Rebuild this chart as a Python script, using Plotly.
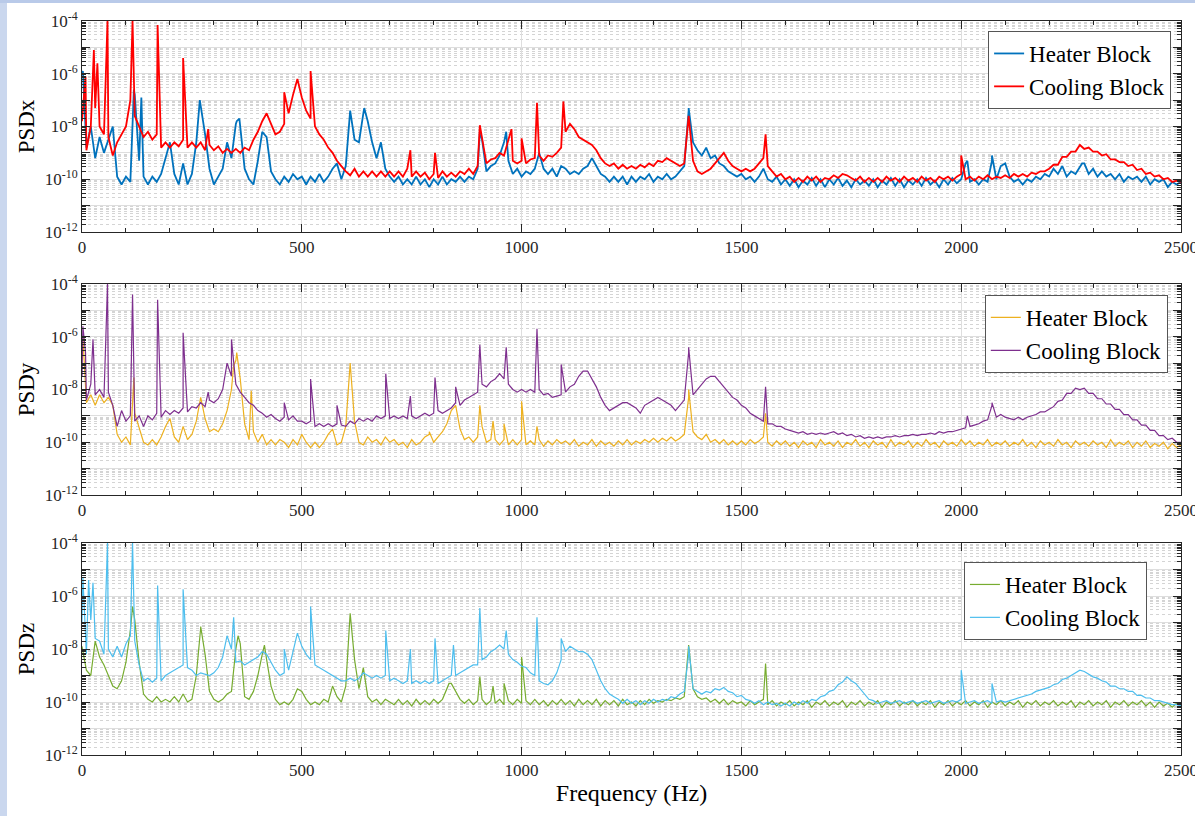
import plotly.graph_objects as go
from plotly.subplots import make_subplots

# ---------------- data (log10 of PSD) ----------------
freq_grid = list(range(0, 2510, 10))

hx_log = [
 -6.0, -8.8, -8.0, -9.2, -8.4, -9.0, -8.5, -8.0, -9.9, -10.2,
 -9.9, -10.1, -6.8, -9.3, -9.9, -10.2, -9.9, -10.1, -9.8, -9.2,
 -8.6, -9.8, -10.2, -9.4, -10.2, -9.8, -8.6, -7.2, -8.3, -9.6,
 -10.2, -9.9, -9.6, -8.6, -9.2, -7.9, -8.0, -9.6, -10.0, -10.2,
 -9.3, -8.2, -8.4, -9.7, -10.0, -10.2, -9.9, -10.1, -9.8, -10.0,
 -9.9, -10.2, -9.9, -10.1, -9.8, -10.1, -9.9, -9.6, -9.4, -10.0,
 -9.5, -7.6, -8.5, -8.6, -7.5, -7.8, -8.6, -9.2, -8.6, -9.6,
 -9.9, -10.1, -9.9, -10.2, -10.0, -10.2, -9.9, -10.2, -10.0, -10.3,
 -10.0, -10.2, -9.9, -10.2, -10.0, -10.1, -9.9, -10.1, -9.9, -10.0,
 -9.6, -8.5, -9.7, -9.5, -9.4, -9.1, -8.6, -9.3, -9.8, -9.6,
 -9.9, -9.7, -9.8, -9.6, -9.0, -9.6, -9.8, -9.6, -9.9, -9.5,
 -9.6, -9.8, -9.7, -9.8, -9.6, -9.5, -9.2, -9.5, -9.8, -9.9,
 -10.1, -9.9, -10.1, -9.9, -10.2, -9.9, -10.1, -9.9, -10.0, -9.8,
 -10.1, -9.9, -10.0, -9.8, -10.0, -9.9, -9.7, -9.5, -7.4, -8.6,
 -8.9, -9.1, -8.8, -9.2, -9.1, -9.4, -9.5, -9.7, -9.8, -9.9,
 -9.8, -10.0, -9.9, -10.1, -9.9, -9.6, -10.0, -10.1, -9.9, -10.2,
 -10.0, -10.25, -10.0, -10.3, -10.05, -10.2, -9.95, -10.25, -10.0, -10.3,
 -10.0, -10.2, -9.95, -10.25, -10.05, -10.3, -10.0, -10.2, -10.05, -10.25,
 -10.0, -10.3, -10.05, -10.2, -9.95, -10.25, -10.0, -10.3, -10.05, -10.2,
 -10.0, -10.25, -9.95, -10.2, -10.05, -10.3, -10.0, -10.2, -9.95, -10.15,
 -10.0, -9.4, -10.1, -10.0, -10.2, -10.0, -10.1, -9.3, -10.0, -9.5,
 -9.4, -9.9, -10.1, -10.0, -10.2, -10.0, -10.1, -9.9, -10.0, -9.8,
 -9.9, -9.6, -9.8, -9.5, -9.9, -9.7, -9.8, -9.5, -9.4, -9.8,
 -9.6, -9.9, -9.7, -9.9, -9.8, -10.0, -9.8, -10.1, -9.9, -10.0,
 -9.9, -10.1, -9.9, -10.2, -10.0, -10.1, -10.0, -10.3, -10.1, -10.2,
 -10.1,
]
cx_log = [
 -7.8, -8.9, -8.0, -7.3, -8.0, -8.3, -8.4, -9.1, -8.6, -8.3,
 -8.0, -7.0, -7.6, -8.0, -8.4, -8.2, -8.5, -8.3, -8.8, -8.6,
 -8.8, -8.6, -8.75, -8.5, -8.8, -8.6, -8.8, -8.6, -8.9, -8.7,
 -8.9, -8.75, -9.0, -8.85, -9.0, -8.85, -9.0, -8.8, -8.9, -8.5,
 -8.2, -7.8, -7.5, -7.9, -8.3, -8.2, -7.9, -7.5, -6.8, -6.2,
 -6.9, -7.4, -7.7, -8.0, -8.3, -8.5, -8.8, -9.0, -9.3, -9.5,
 -9.7, -9.85, -9.6, -9.9, -9.7, -9.9, -9.7, -9.9, -9.7, -9.9,
 -9.7, -9.9, -9.7, -9.9, -9.6, -9.9, -9.7, -9.9, -9.75, -10.0,
 -9.8, -9.95, -9.7, -9.9, -9.75, -9.9, -9.7, -9.8, -9.6, -9.8,
 -9.5, -8.4, -9.4, -9.25, -9.2, -9.0, -9.1, -8.5, -9.3, -9.4,
 -9.3, -9.4, -9.25, -9.2, -9.1, -9.3, -9.1, -9.15, -9.0, -8.8,
 -8.2, -7.9, -8.1, -8.4, -8.5, -8.6, -8.7, -8.9, -9.2, -9.4,
 -9.5, -9.4, -9.6, -9.45, -9.6, -9.5, -9.6, -9.45, -9.55, -9.4,
 -9.5, -9.3, -9.35, -9.2, -9.3, -9.4, -9.5, -9.4, -7.6, -9.3,
 -9.7, -9.8, -9.7, -9.6, -9.4, -9.2, -9.0, -9.3, -9.5, -9.6,
 -9.7, -9.6, -9.7, -9.6, -9.4, -9.2, -9.5, -9.7, -9.9, -9.8,
 -10.0, -9.9, -10.1, -9.95, -10.1, -9.9, -10.05, -9.9, -10.1, -9.95,
 -10.0, -9.85, -9.95, -9.8, -9.85, -9.95, -10.05, -9.9, -10.1, -9.95,
 -10.1, -9.95, -10.1, -9.9, -10.05, -9.95, -10.1, -9.9, -10.05, -9.95,
 -10.1, -9.9, -10.05, -9.95, -10.1, -9.9, -10.0, -9.9, -10.05, -9.9,
 -9.8, -10.0, -9.9, -10.05, -9.9, -10.0, -9.85, -10.0, -9.9, -9.95,
 -9.85, -9.95, -9.8, -9.9, -9.8, -9.9, -9.75, -9.8, -9.7, -9.7,
 -9.6, -9.45, -9.45, -9.15, -9.15, -8.95, -8.95, -8.7, -8.85, -8.8,
 -8.95, -8.95, -9.1, -9.05, -9.25, -9.25, -9.35, -9.35, -9.5, -9.45,
 -9.65, -9.6, -9.8, -9.75, -9.9, -9.85, -10.0, -9.95, -10.1, -10.05,
 -10.1,
]
hy_log = [
 -6.3, -8.5, -8.2, -8.6, -8.2, -8.5, -8.3, -8.6, -9.7, -10.0,
 -9.8, -10.1, -8.9, -9.5, -10.0, -10.1, -9.9, -10.1, -9.8, -9.4,
 -9.1, -9.8, -10.0, -9.4, -9.9, -9.7, -9.2, -8.3, -9.1, -9.6,
 -9.5, -9.6, -9.3, -8.8, -8.0, -6.9, -7.6, -9.3, -9.9, -9.6,
 -10.0, -9.7, -10.1, -9.9, -10.1, -9.9, -10.0, -10.2, -9.9, -10.1,
 -9.7, -10.0, -10.2, -10.0, -10.2, -10.0, -9.7, -9.5, -10.1, -10.0,
 -9.4, -7.2, -9.2, -10.0, -10.1, -9.8, -10.0, -9.9, -10.1, -9.8,
 -10.0, -9.9, -10.1, -10.0, -10.2, -9.9, -10.1, -10.0, -9.8, -9.7,
 -10.0, -9.8, -9.6, -9.3, -8.8, -8.6, -9.5, -9.9, -9.8, -10.0,
 -9.8, -9.4, -10.0, -9.9, -9.9, -10.1, -9.9, -10.1, -9.9, -10.1,
 -9.9, -10.1, -9.95, -10.1, -9.9, -10.15, -9.95, -10.1, -9.9, -10.05,
 -9.95, -10.1, -9.9, -10.15, -10.0, -10.1, -9.9, -10.15, -9.95, -10.1,
 -10.0, -10.15, -9.95, -10.1, -9.9, -10.1, -9.95, -10.05, -9.9, -10.0,
 -9.85, -10.0, -9.85, -9.95, -9.8, -9.95, -9.85, -9.7, -8.3, -9.6,
 -9.8, -9.9, -9.7, -10.0, -9.9, -10.05, -9.9, -10.1, -9.95, -10.1,
 -9.95, -10.1, -9.9, -10.05, -9.95, -9.8, -10.0, -10.15, -9.95, -10.1,
 -9.95, -10.15, -10.0, -10.2, -9.95, -10.1, -10.0, -10.2, -9.9, -10.1,
 -10.0, -10.15, -9.95, -10.2, -10.0, -10.1, -9.9, -10.15, -10.0, -10.2,
 -9.95, -10.1, -10.0, -10.2, -9.9, -10.15, -10.0, -10.1, -9.95, -10.2,
 -10.0, -10.15, -9.9, -10.1, -10.0, -10.2, -9.95, -10.1, -10.0, -10.15,
 -9.9, -10.1, -9.95, -10.15, -10.0, -10.1, -9.9, -10.15, -10.0, -10.1,
 -9.95, -10.15, -10.0, -10.1, -9.9, -10.15, -10.0, -10.2, -9.95, -10.1,
 -10.0, -10.15, -9.9, -10.1, -10.0, -10.2, -9.95, -10.1, -10.0, -10.15,
 -9.95, -10.1, -10.0, -10.2, -9.9, -10.15, -10.0, -10.1, -9.95, -10.2,
 -10.0, -10.15, -9.95, -10.2, -10.05, -10.15, -10.0, -10.25, -10.05, -10.2,
 -10.1,
]
cy_log = [
 -7.5, -8.4, -7.8, -8.2, -8.0, -8.3, -8.1, -8.6, -9.4, -8.8,
 -9.2, -9.0, -9.2, -9.0, -9.4, -9.0, -9.15, -8.9, -9.05, -8.8,
 -8.95, -8.8, -8.9, -8.7, -8.85, -8.65, -8.7, -8.5, -8.65, -8.4,
 -8.5, -8.35, -8.0, -7.0, -7.5, -7.8, -8.1, -8.3, -8.5, -8.6,
 -8.8, -8.9, -9.05, -8.95, -9.1, -9.2, -9.05, -9.15, -9.0, -9.2,
 -9.2, -9.3, -9.2, -9.4, -9.3, -9.4, -9.3, -9.4, -9.3, -9.35,
 -9.4, -9.2, -9.3, -9.1, -9.2, -9.1, -9.2, -9.0, -9.1, -9.0,
 -9.1, -9.0, -9.1, -9.0, -9.1, -9.0, -9.1, -9.0, -8.9, -9.0,
 -8.9, -8.8, -8.9, -8.8, -8.7, -8.5, -8.6, -8.4, -8.3, -8.2,
 -8.1, -7.8, -7.9, -7.7, -7.6, -7.4, -7.6, -7.8, -8.0, -8.1,
 -8.0, -8.1, -8.0, -8.1, -8.0, -8.2, -8.15, -8.3, -8.25, -8.2,
 -8.1, -7.9, -7.8, -7.5, -7.3, -7.3, -7.6, -7.9, -8.3, -8.6,
 -8.8, -8.7, -8.6, -8.5, -8.5, -8.6, -8.7, -8.9, -8.6, -8.5,
 -8.4, -8.3, -8.4, -8.5, -8.6, -8.8, -8.6, -8.4, -6.6, -8.2,
 -8.0, -7.8, -7.6, -7.5, -7.5, -7.7, -7.9, -8.1, -8.3, -8.4,
 -8.6, -8.7, -8.9, -9.0, -9.1, -9.2, -9.3, -9.3, -9.4, -9.4,
 -9.5, -9.55, -9.6, -9.65, -9.6, -9.7, -9.65, -9.7, -9.65, -9.7,
 -9.65, -9.6, -9.7, -9.65, -9.75, -9.7, -9.8, -9.75, -9.85, -9.8,
 -9.85, -9.8, -9.85, -9.8, -9.8, -9.75, -9.8, -9.75, -9.75, -9.7,
 -9.75, -9.7, -9.7, -9.65, -9.7, -9.6, -9.65, -9.6, -9.6, -9.55,
 -9.5, -9.45, -9.4, -9.35, -9.3, -9.2, -9.15, -8.6, -9.05, -8.95,
 -9.05, -9.1, -9.15, -9.05, -9.15, -9.05, -9.0, -8.95, -8.85, -8.85,
 -8.75, -8.65, -8.45, -8.4, -8.15, -8.15, -7.95, -8.0, -7.95, -8.15,
 -8.15, -8.35, -8.35, -8.55, -8.55, -8.75, -8.75, -8.95, -8.95, -9.15,
 -9.15, -9.35, -9.35, -9.55, -9.55, -9.75, -9.75, -9.9, -9.85, -10.0,
 -10.0,
]
hz_log = [
 -7.9, -8.8, -9.0, -7.7, -8.3, -8.6, -9.0, -9.4, -9.5, -9.2,
 -8.5, -7.3, -6.9, -8.5, -9.7, -9.9, -10.0, -9.8, -10.0, -9.9,
 -10.0, -9.8, -10.0, -9.7, -10.0, -9.9, -9.0, -7.2, -8.2, -9.6,
 -9.9, -10.0, -9.9, -9.7, -9.6, -8.0, -7.8, -9.8, -9.9, -9.6,
 -9.0, -8.2, -8.4, -9.4, -9.9, -10.1, -10.0, -10.1, -9.9, -9.5,
 -9.6, -9.9, -10.1, -10.0, -10.1, -9.9, -10.0, -9.4, -9.8, -10.0,
 -9.4, -6.8, -8.4, -9.5, -8.7, -9.8, -10.0, -9.9, -10.1, -9.9,
 -10.0, -10.1, -9.9, -10.1, -9.95, -10.15, -9.9, -10.1, -9.95, -10.1,
 -9.9, -10.05, -9.9, -9.5, -9.3, -9.6, -9.9, -10.05, -9.9, -10.1,
 -9.95, -9.9, -10.1, -9.95, -10.05, -9.9, -10.1, -9.95, -10.1, -9.9,
 -10.05, -9.95, -10.1, -9.9, -10.1, -9.95, -10.15, -9.95, -10.1, -9.9,
 -10.1, -9.95, -10.15, -9.9, -10.1, -9.95, -10.1, -9.9, -10.15, -9.95,
 -10.1, -9.95, -10.15, -9.9, -10.1, -10.0, -10.15, -9.95, -10.1, -9.9,
 -10.05, -9.95, -10.0, -9.9, -9.95, -9.85, -9.9, -9.8, -8.0, -9.5,
 -9.8, -9.9, -9.85, -10.0, -9.9, -10.05, -9.9, -10.1, -9.95, -10.05,
 -10.0, -10.15, -9.95, -10.1, -10.0, -9.9, -10.1, -9.95, -10.15, -10.0,
 -10.1, -9.95, -10.15, -10.0, -10.1, -9.95, -10.2, -10.0, -10.1, -9.95,
 -10.15, -10.0, -10.1, -9.95, -10.2, -10.0, -10.1, -9.95, -10.15, -10.0,
 -10.1, -9.95, -10.2, -10.0, -10.1, -9.95, -10.15, -10.0, -10.1, -9.95,
 -10.15, -10.0, -10.1, -9.95, -10.2, -10.0, -10.1, -9.95, -10.15, -10.0,
 -10.1, -9.95, -10.15, -10.0, -10.1, -9.95, -10.2, -10.0, -10.1, -9.95,
 -10.15, -10.0, -10.1, -9.95, -10.2, -10.0, -10.1, -9.95, -10.15, -10.0,
 -10.1, -9.95, -10.15, -10.0, -10.1, -9.95, -10.2, -10.0, -10.1, -9.95,
 -10.15, -10.0, -10.1, -9.95, -10.2, -10.0, -10.1, -9.95, -10.15, -10.0,
 -10.1, -9.95, -10.15, -10.0, -10.2, -10.0, -10.15, -10.05, -10.2, -10.05,
 -10.15,
]
cz_log = [
 -7.0, -8.2, -6.9, -7.6, -7.7, -8.2, -8.0, -8.3, -7.9, -8.3,
 -7.8, -7.5, -7.7, -8.6, -9.2, -9.1, -9.25, -9.1, -9.2, -9.0,
 -8.9, -8.8, -8.7, -8.6, -8.7, -8.8, -9.0, -8.9, -8.95, -9.0,
 -8.9, -8.7, -8.3, -7.5, -8.0, -8.5, -8.45, -8.6, -8.5, -8.4,
 -8.3, -8.1, -8.2, -8.5, -8.8, -9.0, -8.9, -8.8, -8.1, -7.4,
 -7.9, -8.2, -8.4, -8.6, -8.7, -8.8, -8.9, -9.0, -9.1, -9.2,
 -9.2, -9.1, -9.2, -9.1, -8.9, -9.0, -9.1, -9.0, -9.1, -9.0,
 -9.2, -9.1, -9.2, -9.3, -9.2, -9.3, -9.2, -9.3, -9.2, -9.3,
 -9.2, -9.3, -9.2, -9.1, -9.0, -9.0, -8.9, -8.8, -8.7, -8.6,
 -8.6, -8.4, -8.3, -8.1, -8.0, -7.85, -8.0, -8.2, -8.4, -8.5,
 -8.65, -8.7, -8.9, -9.0, -9.2, -9.3, -9.35, -9.2, -8.9, -8.4,
 -8.1, -7.9, -8.0, -8.1, -8.1, -8.2, -8.4, -8.8, -9.2, -9.5,
 -9.7, -9.8, -9.9, -10.05, -9.9, -10.05, -9.95, -10.1, -9.95, -10.05,
 -9.9, -10.0, -9.9, -9.95, -9.8, -9.85, -9.7, -9.6, -8.2, -9.5,
 -9.6, -9.7, -9.6, -9.65, -9.5, -9.55, -9.45, -9.6, -9.65, -9.8,
 -9.75, -9.9, -9.95, -10.05, -9.95, -10.1, -10.0, -10.1, -10.05, -10.15,
 -10.05, -10.15, -10.0, -10.1, -9.95, -10.05, -9.9, -9.95, -9.8, -9.75,
 -9.6, -9.55, -9.35, -9.25, -9.05, -9.2, -9.3, -9.5, -9.7, -9.9,
 -9.95, -10.05, -10.0, -9.95, -10.05, -10.0, -9.95, -10.05, -10.0, -9.95,
 -10.05, -10.0, -9.95, -10.05, -10.0, -9.95, -10.05, -10.0, -9.95, -10.0,
 -9.9, -10.05, -10.0, -9.95, -10.05, -10.0, -9.95, -10.05, -10.0, -9.95,
 -10.0, -9.95, -9.9, -9.85, -9.8, -9.75, -9.7, -9.6, -9.55, -9.5,
 -9.45, -9.35, -9.3, -9.15, -9.1, -9.0, -8.9, -8.8, -8.85, -8.95,
 -9.05, -9.1, -9.2, -9.25, -9.4, -9.4, -9.5, -9.5, -9.6, -9.6,
 -9.75, -9.75, -9.85, -9.85, -9.95, -9.95, -10.0, -10.05, -10.1, -10.1,
 -10.15,
]

# narrow spectral lines: (frequency Hz, log10 PSD)
hx_spike_f = [2, 118, 135, 268, 352, 358, 610, 642, 905, 965, 1040, 1380, 1422, 2014, 2070, 2275]
hx_spike_v = [-5.9, -6.6, -6.9, -7.0, -7.8, -7.7, -7.4, -7.3, -8.2, -8.2, -9.0, -7.3, -8.9, -9.3, -9.1, -9.4]
cx_spike_f = [8, 27, 35, 58, 115, 172, 230, 287, 460, 520, 747, 803, 905, 977, 1000, 1035, 1095, 1380, 1555, 2000]
cx_spike_v = [-6.1, -5.1, -5.6, -4.0, -4.0, -4.15, -5.4, -8.1, -6.7, -5.9, -8.9, -9.0, -7.95, -8.1, -8.45, -7.1, -7.05, -7.6, -8.3, -9.1]
hy_spike_f = [2, 118, 345, 352, 385, 610, 790, 905, 935, 960, 1000, 1035, 1380, 1555]
hy_spike_v = [-6.0, -7.55, -7.1, -6.6, -8.05, -7.0, -9.6, -8.6, -9.2, -9.3, -8.45, -9.4, -8.0, -8.9]
cy_spike_f = [2, 8, 25, 58, 115, 172, 230, 287, 340, 460, 520, 580, 691, 747, 803, 850, 905, 965, 1035, 1090, 1380, 1555, 2014, 2070]
cy_spike_v = [-5.6, -6.6, -6.1, -4.0, -4.4, -4.6, -5.85, -8.1, -6.1, -8.5, -7.6, -8.6, -7.4, -8.25, -7.55, -7.9, -6.3, -6.4, -5.7, -7.05, -6.4, -7.9, -9.0, -8.5]
hz_spike_f = [115, 270, 355, 415, 610, 835, 905, 935, 960, 1000, 1380, 1555]
hz_spike_v = [-6.4, -7.15, -7.5, -7.85, -6.65, -9.3, -9.05, -9.4, -9.3, -8.3, -7.85, -8.55]
cz_spike_f = [2, 15, 25, 58, 115, 172, 230, 345, 460, 520, 691, 747, 803, 845, 905, 965, 1035, 1090, 1380, 2000, 2070]
cz_spike_v = [-5.3, -5.4, -5.5, -4.0, -4.0, -5.6, -5.75, -6.8, -8.0, -6.4, -7.3, -8.0, -7.6, -7.85, -6.45, -7.3, -6.8, -7.6, -7.9, -8.8, -9.3]

panel_titles = ["PSDx", "PSDy", "PSDz"]
legend_labels = ["Heater Block", "Cooling Block"]
heater_colors = ["#0072BD", "#EDB120", "#77AC30"]
cooling_colors = ["#FF0000", "#7E2F8E", "#4DBEEE"]
x_tick_vals = [0, 500, 1000, 1500, 2000, 2500]
y_exponents = list(range(-12, -3))


def merge(base, sf, sv):
    pts = list(zip(freq_grid, base)) + list(zip(sf, sv))
    pts.sort(key=lambda p: p[0])
    return [p[0] for p in pts], [10 ** p[1] for p in pts]


series = [
    (merge(hx_log, hx_spike_f, hx_spike_v), merge(cx_log, cx_spike_f, cx_spike_v)),
    (merge(hy_log, hy_spike_f, hy_spike_v), merge(cy_log, cy_spike_f, cy_spike_v)),
    (merge(hz_log, hz_spike_f, hz_spike_v), merge(cz_log, cz_spike_f, cz_spike_v)),
]

# ---------------- figure ----------------
W, H = 1195, 816
ML, MR, MT, MB = 82, 14, 21, 61
PW, PH = W - ML - MR, H - MT - MB
panels_px = [(21, 232), (284, 495), (543, 755)]


def py(y):
    return (H - MB - y) / PH


fig = make_subplots(rows=3, cols=1, vertical_spacing=0.05)
font_fam = "Liberation Serif, DejaVu Serif, Noto Serif, FreeSerif, Times New Roman, serif"
axis_col = "#262626"
lw = [1.8, 1.2, 1.2]
legend_names = ["legend", "legend2", "legend3"]

for i in range(3):
    (hxs, hys), (cxs, cys) = series[i]
    fig.add_trace(go.Scatter(x=hxs, y=hys, mode="lines", name=legend_labels[0],
                             line=dict(color=heater_colors[i], width=lw[i]),
                             legend=legend_names[i]), row=i + 1, col=1)
    fig.add_trace(go.Scatter(x=cxs, y=cys, mode="lines", name=legend_labels[1],
                             line=dict(color=cooling_colors[i], width=lw[i]),
                             legend=legend_names[i]), row=i + 1, col=1)

minor_y = [k * 10 ** e for e in range(-12, -4) for k in range(2, 10)]
for i in range(3):
    top, bot = panels_px[i]
    n = "" if i == 0 else str(i + 1)
    fig.layout["yaxis" + n].domain = [py(bot), py(top)]
    fig.update_yaxes(
        row=i + 1, col=1, type="log", range=[-12, -4], automargin=False,
        tickvals=[10 ** e for e in y_exponents],
        ticktext=[("10<sup>%d</sup>" % e) if e % 2 == 0 else " " for e in y_exponents],
        ticks="inside", ticklen=8, tickcolor=axis_col, tickwidth=1,
        showline=True, linecolor=axis_col, linewidth=1, mirror="ticks",
        showgrid=True, gridcolor="#dedede", gridwidth=1,
        tickfont=dict(family=font_fam, size=17, color=axis_col),
        minor=dict(tickvals=minor_y, ticks="inside", ticklen=4, tickcolor=axis_col,
                   showgrid=True, gridcolor="#d4d4d4", griddash="dot", gridwidth=1),
        title=dict(text=panel_titles[i], font=dict(family=font_fam, size=23, color="black"),
                   standoff=3),
        zeroline=False,
    )
    fig.update_xaxes(
        row=i + 1, col=1, range=[0, 2500], tickvals=x_tick_vals, automargin=False,
        ticklabeloverflow="allow",
        ticks="inside", ticklen=8, tickcolor=axis_col,
        showline=True, linecolor=axis_col, linewidth=1, mirror="ticks",
        showgrid=True, gridcolor="#dedede", gridwidth=1,
        tickfont=dict(family=font_fam, size=17, color=axis_col),
        minor=dict(dtick=100, tick0=0, ticks="inside", ticklen=4, tickcolor=axis_col, showgrid=False),
        zeroline=False,
    )
fig.update_xaxes(row=3, col=1,
                 title=dict(text="Frequency (Hz)", font=dict(family=font_fam, size=24, color="black"),
                            standoff=4))

leg_pos = [(0.991, py(31)), (0.988, py(295)), (0.969, py(562))]
leg_common = dict(font=dict(family=font_fam, size=23, color="black"), bgcolor="white",
                  bordercolor="#555555", borderwidth=1, xanchor="right", yanchor="top",
                  itemwidth=30, tracegroupgap=0)
fig.update_layout(
    legend=dict(x=leg_pos[0][0], y=leg_pos[0][1], **leg_common),
    legend2=dict(x=leg_pos[1][0], y=leg_pos[1][1], **leg_common),
    legend3=dict(x=leg_pos[2][0], y=leg_pos[2][1], **leg_common),
)

# light blue frame visible at left and top of the original screenshot
fig.add_shape(type="rect", xref="paper", yref="paper", layer="below",
              x0=-ML / PW, x1=(7 - ML) / PW, y0=-MB / PH, y1=(H - MB) / PH,
              fillcolor="#cad7ee", line=dict(width=0))
fig.add_shape(type="rect", xref="paper", yref="paper", layer="below",
              x0=-ML / PW, x1=(W - ML) / PW, y0=py(3), y1=(H - MB) / PH,
              fillcolor="#b9cae9", line=dict(width=0))

fig.update_layout(
    width=W, height=H,
    margin=dict(l=ML, r=MR, t=MT, b=MB),
    paper_bgcolor="white", plot_bgcolor="white",
    showlegend=True,
)

fig.write_html("out.html", config={"displayModeBar": False},
               post_script="document.body.style.margin='0px';")
